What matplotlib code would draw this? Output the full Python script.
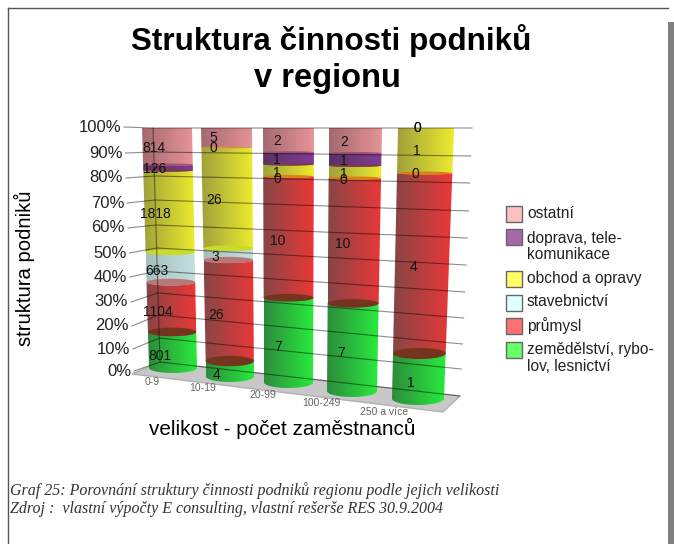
"""Struktura cinnosti podniku v regionu: stacked 100 % cylinders, drawn in pixel space."""

import matplotlib

matplotlib.use("Agg")
import matplotlib.pyplot as plt
import numpy as np
from matplotlib.patches import Ellipse, PathPatch, Polygon, Rectangle
from matplotlib.path import Path

# data
SIZES = ["0-9", "10-19", "20-99", "100-249", "250 a více"]
SECTORS = ["zemědělství, rybo-\nlov, lesnictví", "průmysl", "stavebnictví",
           "obchod a opravy", "doprava, tele-\nkomunikace", "ostatní"]
ZEMEDELSTVI = [801, 4, 7, 7, 1]
PRUMYSL = [1104, 26, 10, 10, 4]
STAVEBNICTVI = [663, 3, 0, 0, 0]
OBCHOD = [1818, 26, 1, 1, 1]
DOPRAVA = [126, 0, 1, 1, 0]
OSTATNI = [814, 5, 2, 2, 0]
PCT_TICKS = [0, 10, 20, 30, 40, 50, 60, 70, 80, 90, 100]

# colours per sector: dark side, lit side, legend swatch
STYLE = [
    ((45, 140, 60), (40, 235, 60), "#66ff66"),
    ((135, 70, 70), (235, 55, 55), "#ff7070"),
    ((165, 190, 190), (195, 225, 225), "#e0ffff"),
    ((160, 160, 60), (235, 235, 45), "#ffff66"),
    ((90, 50, 100), (130, 60, 150), "#a868a8"),
    ((165, 105, 110), (230, 148, 152), "#ffc0c0"),
]

# frame geometry in pixels of the 674x544 picture
TOP_Y = 128
BASE_Y = [368, 376.5, 382.5, 391, 398.5]
BASE_X = [173, 230, 288.5, 352, 418]
TOP_X = [167, 226.5, 288.5, 355.5, 426]
BASE_R = [24, 24, 24.5, 25, 26]
TOP_R = [25, 25.5, 25.5, 26.5, 28]
BASE_RY = [5, 5.5, 5.5, 6, 6.5]
LABEL_BASE = [(160, 374), (217, 383), (278, 391), (341, 398), (410, 406)]
LABEL_TOP = [(153, 129), (213, 128), (277, 129), (344, 129), (417, 128)]
SIZE_LABEL_POS = [(152, 382), (203, 388), (263, 395), (321, 403), (384, 412)]
WALL_LEFT_Y = [362, 338, 315, 293, 271, 248, 225, 200, 176, 152, 128]
WALL_RIGHT_Y = [396, 369, 344, 318, 292, 265, 238, 211, 183, 156, 128]
TICK_Y = [371, 349, 326, 302, 277, 253, 228, 203, 178, 153, 127]
TICK_X = [131, 130, 129, 128, 127, 126.5, 125, 124, 123, 122.5, 121]
LEGEND_Y = [342, 318, 295, 271, 229, 206]
LEGEND_TEXT_Y = [358, 326, 302, 279, 246.5, 213]


def lerp(a, b, t):
    return a + (b - a) * t


def ring(i, f):
    """Centre and radii of cylinder i at height fraction f."""
    return (lerp(BASE_X[i], TOP_X[i], f), lerp(BASE_Y[i], TOP_Y, f),
            lerp(BASE_R[i], TOP_R[i], f), lerp(BASE_RY[i], 0.5, f))


def draw_segment(ax, i, f0, f1, dark, lit):
    cx0, cy0, r0, ry0 = ring(i, f0)
    cx1, cy1, r1, _ = ring(i, f1)
    t = np.linspace(np.pi, 0, 40)
    arc = np.column_stack([cx0 + r0 * np.cos(t), cy0 + ry0 * np.sin(t)])
    pts = np.vstack([arc, [[cx1 + r1, cy1], [cx1 - r1, cy1]]])
    clip = PathPatch(Path(pts, closed=False), transform=ax.transData, fc="none", ec="none")
    ax.add_patch(clip)
    ramp = np.linspace(0, 1, 64)[None, :, None]
    grad = (np.array(dark) + (np.array(lit) - np.array(dark)) * ramp) / 255
    im = ax.imshow(grad, extent=(pts[:, 0].min(), pts[:, 0].max(), cy0 + ry0, cy1),
                   aspect="auto", interpolation="bilinear", zorder=2)
    im.set_clip_path(clip)


def main():
    plt.rcParams["font.family"] = ["Liberation Sans", "DejaVu Sans"]
    fig = plt.figure(figsize=(6.74, 5.44), dpi=100)
    ax = fig.add_axes([0, 0, 1, 1])
    ax.axis("off")

    # page frame
    ax.plot([8, 668], [8, 8], color="#555555", lw=1)
    ax.plot([8, 8], [8, 544], color="#555555", lw=1)
    ax.add_patch(Rectangle((668, 22), 6, 522, fc="#808080", ec="none"))

    # floor
    ax.add_patch(Polygon([(132, 374), (160, 362), (460, 396), (443, 412)],
                         fc="#c8c8c8", ec="#b0b0b0", lw=1, zorder=1))

    # cylinders
    table = np.array([ZEMEDELSTVI, PRUMYSL, STAVEBNICTVI, OBCHOD, DOPRAVA, OSTATNI], float)
    for i in range(len(SIZES)):
        shares = table[:, i] / table[:, i].sum()
        edges = np.concatenate([[0], np.cumsum(shares)])
        for s, share in enumerate(shares):
            if share > 0:
                draw_segment(ax, i, edges[s], edges[s + 1], STYLE[s][0], STYLE[s][1])
        present = [s for s, share in enumerate(shares) if share > 0]
        for low, up in zip(present, present[1:]):
            cx, cy, r, ry = ring(i, edges[low + 1])
            upper = np.array(STYLE[up][1]) / 255
            lower = np.array(STYLE[low][1]) / 255
            ax.add_patch(Ellipse((cx, cy), 2 * r, 2 * ry, fc=upper * (0.4 + 0.6 * lower),
                                 ec="none", zorder=3))
        # value labels, placed on the wall side of the cylinder
        for s, share in enumerate(shares):
            mid = edges[s] + share / 2
            lx = lerp(LABEL_BASE[i][0], LABEL_TOP[i][0], mid)
            ly = lerp(LABEL_BASE[i][1], LABEL_TOP[i][1], mid)
            ax.text(lx, ly, f"{int(table[s, i])}", ha="center", va="center",
                    fontsize=10, color="#111111", zorder=6)
        ax.text(*SIZE_LABEL_POS[i], SIZES[i], ha="center", va="center",
                fontsize=7.5, color="#666666", zorder=6)

    # grid lines show through the cylinders
    for k, pct in enumerate(PCT_TICKS):
        wall_x = lerp(160, 153, pct / 100)
        right_x = lerp(460, 472, pct / 100)
        ax.plot([TICK_X[k] + 3, wall_x, right_x], [TICK_Y[k], WALL_LEFT_Y[k], WALL_RIGHT_Y[k]],
                color="black", alpha=0.45, lw=0.8, zorder=5, solid_joinstyle="miter")
        ax.text(TICK_X[k], TICK_Y[k], f"{pct}%", ha="right", va="center",
                fontsize=12, color="#222222", zorder=6)
    ax.plot([153, 160], [128, 362], color="black", alpha=0.45, lw=0.8, zorder=5)

    # titles
    ax.text(331, 41, "Struktura činnosti podniků", ha="center", va="center",
            fontsize=22.6, fontweight="bold", color="black")
    ax.text(327, 79, "v regionu", ha="center", va="center",
            fontsize=23.5, fontweight="bold", color="black")
    ax.text(24, 268, "struktura podniků", rotation=90, ha="center", va="center",
            fontsize=14.6, color="black")
    ax.text(282, 428, "velikost - počet zaměstnanců", ha="center", va="center",
            fontsize=14.9, color="black")

    # legend
    for s, name in enumerate(SECTORS):
        ax.add_patch(Rectangle((505.5, LEGEND_Y[s]), 16, 16, fc=STYLE[s][2], ec="#666666", lw=1))
        ax.text(527, LEGEND_TEXT_Y[s], name, ha="left", va="center", fontsize=11.2,
                color="#222222", linespacing=1.13)

    # source note
    for y, line in zip([491, 509], ["Graf 25: Porovnání struktury činnosti podniků regionu podle jejich velikosti",
                                    "Zdroj :  vlastní výpočty E consulting, vlastní rešerše RES 30.9.2004"]):
        ax.text(10, y, line, ha="left", va="center", fontsize=11.5, color="#333333",
                family="Liberation Serif", style="italic")

    ax.set_xlim(0, 674)
    ax.set_ylim(544, 0)
    fig.savefig("out.png", dpi=100, facecolor="white")


if __name__ == "__main__":
    main()
